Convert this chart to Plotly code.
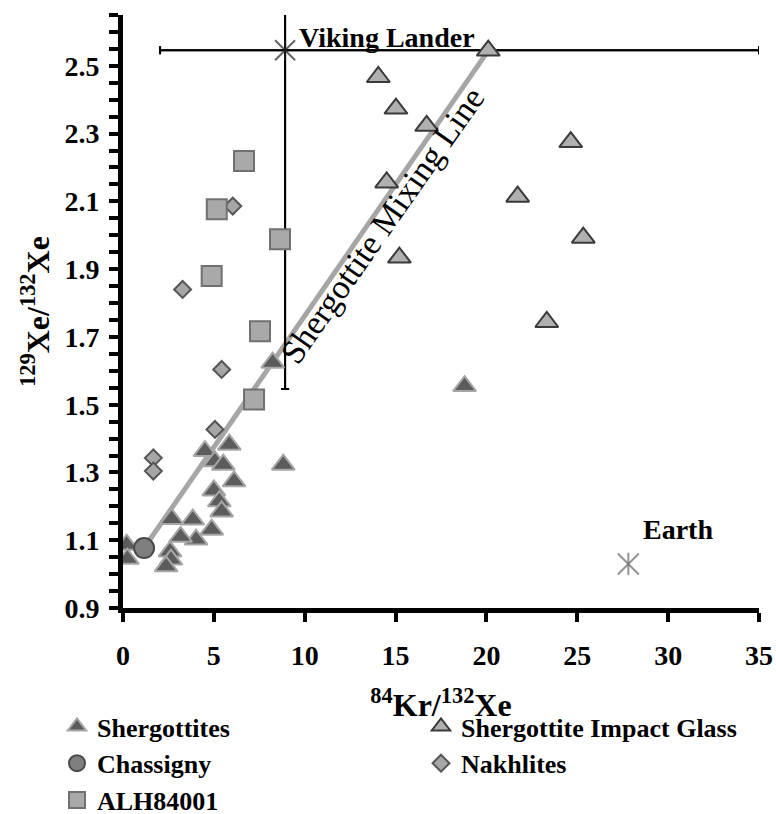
import plotly.graph_objects as go

# ---------------- data ----------------
sherg_x = [8.24, 8.82, 4.51, 5.85, 5.06, 5.52, 6.11, 5.00, 5.30, 5.43, 4.88, 4.02, 3.84,
           2.68, 3.17, 2.59, 2.64, 2.37, 0.20, 0.24, 18.8]
sherg_y = [1.624, 1.323, 1.363, 1.382, 1.333, 1.323, 1.274, 1.247, 1.215, 1.185, 1.131, 1.102,
           1.161, 1.163, 1.110, 1.067, 1.043, 1.023, 1.087, 1.045, 1.555]

glass_x = [20.1, 14.05, 15.02, 16.71, 24.64, 14.51, 21.72, 25.33, 15.21, 23.32]
glass_y = [2.545, 2.467, 2.374, 2.323, 2.275, 2.156, 2.114, 1.993, 1.934, 1.744]

chass_x = [1.16]
chass_y = [1.077]

nakh_x = [5.43, 5.06, 1.67, 1.67, 6.04, 3.28]
nakh_y = [1.604, 1.427, 1.343, 1.304, 2.086, 1.840]

alh_x = [6.66, 5.16, 8.64, 4.88, 7.54, 7.21]
alh_y = [2.219, 2.077, 1.988, 1.880, 1.717, 1.515]

mix_x = [1.16, 20.1]
mix_y = [1.077, 2.545]

viking_x = [8.92]
viking_y = [2.546]
viking_err_x_minus = [6.88]
viking_err_x_plus = [26.08]
viking_err_y_minus = [1.0]
viking_err_y_plus = [0.3]

earth_x = [27.81]
earth_y = [1.03]

x_ticks = [0, 5, 10, 15, 20, 25, 30, 35]
y_ticks = [0.9, 1.1, 1.3, 1.5, 1.7, 1.9, 2.1, 2.3, 2.5]

FONT = "Liberation Serif, Times New Roman, serif"

fig = go.Figure()

# mixing line
fig.add_trace(go.Scatter(x=mix_x, y=mix_y, mode="lines",
                         line=dict(color="#a6a6a6", width=5),
                         showlegend=False, hoverinfo="skip"))

# Viking lander with error bars
fig.add_trace(go.Scatter(
    x=viking_x * 2, y=viking_y * 2, mode="markers",
    marker=dict(symbol=["x-thin-open", "line-ns-open"], size=[20, 15],
                line=dict(color="#222222", width=2), color="#222222"),
    error_x=dict(type="data", symmetric=False, array=viking_err_x_plus * 2,
                 arrayminus=viking_err_x_minus * 2, color="black", thickness=2, width=4),
    error_y=dict(type="data", symmetric=False, array=viking_err_y_plus * 2,
                 arrayminus=viking_err_y_minus * 2, color="black", thickness=2, width=4),
    showlegend=False, hoverinfo="skip"))

# Earth
fig.add_trace(go.Scatter(
    x=earth_x * 2, y=earth_y * 2, mode="markers",
    marker=dict(symbol=["x-thin-open", "line-ns-open"], size=[21, 16],
                line=dict(color="#666666", width=2), color="#666666"),
    showlegend=False, hoverinfo="skip"))

fig.add_trace(go.Scatter(
    x=sherg_x, y=sherg_y, mode="markers", name="Shergottites", legendrank=1,
    marker=dict(symbol="triangle-up", size=20, color="#5c5c5c",
                line=dict(color="#a6a6a6", width=2))))

fig.add_trace(go.Scatter(
    x=glass_x, y=glass_y, mode="markers", name="Shergottite Impact Glass", legendrank=2,
    marker=dict(symbol="triangle-up", size=20, color="#b0b0b0",
                line=dict(color="#3a3a3a", width=2))))

fig.add_trace(go.Scatter(
    x=chass_x, y=chass_y, mode="markers", name="Chassigny", legendrank=3,
    marker=dict(symbol="circle", size=20, color="#7f7f7f",
                line=dict(color="#4a4a4a", width=2))))

fig.add_trace(go.Scatter(
    x=nakh_x, y=nakh_y, mode="markers", name="Nakhlites", legendrank=4,
    marker=dict(symbol="diamond", size=13, color="#a6a6a6",
                line=dict(color="#555555", width=2))))

fig.add_trace(go.Scatter(
    x=alh_x, y=alh_y, mode="markers", name="ALH84001", legendrank=5,
    marker=dict(symbol="square", size=20, color="#a9a9a9",
                line=dict(color="#707070", width=2))))

fig.add_annotation(x=9.55, y=2.585, text="<b>Viking Lander</b>", showarrow=False,
                   xanchor="left", yanchor="middle",
                   font=dict(family=FONT, size=28, color="black", weight="bold"))
fig.add_annotation(x=28.5, y=1.131, text="<b>Earth</b>", showarrow=False,
                   xanchor="left", yanchor="middle",
                   font=dict(family=FONT, size=28, color="black", weight="bold"))
fig.add_annotation(x=14.25, y=2.03, text="Shergottite Mixing Line", showarrow=False,
                   textangle=-55, xanchor="center", yanchor="middle",
                   font=dict(family=FONT, size=34, color="black", weight="normal"))

W, H = 776, 814
L, R, T, B = 123, 17, 15, 206
PW, PH = W - L - R, H - T - B

fig.update_layout(
    width=W, height=H, autosize=False,
    margin=dict(l=L, r=R, t=T, b=B, autoexpand=False),
    paper_bgcolor="white", plot_bgcolor="white",
    font=dict(family=FONT, size=28, color="black"),
    showlegend=True,
    legend=dict(orientation="h", xref="paper", yref="paper",
                x=(57 - L) / PW, y=-(703 - (H - B)) / PH, xanchor="left", yanchor="top",
                entrywidth=319, entrywidthmode="pixels",
                font=dict(family=FONT, size=26, color="black", weight="bold"),
                tracegroupgap=0, itemsizing="trace", bgcolor="rgba(0,0,0,0)"),
)

fig.update_xaxes(
    range=[0, 35], tickmode="array", tickvals=x_ticks, ticktext=[str(v) for v in x_ticks],
    showgrid=False, zeroline=False, showline=True, linecolor="black", linewidth=5,
    ticks="outside", ticklen=9, tickwidth=4, tickcolor="black",
    ticklabelstandoff=9, automargin=False,
    tickfont=dict(family=FONT, size=28, color="black", weight="bold"),
    title=dict(text="<sup>84</sup>Kr/<sup>132</sup>Xe", standoff=26,
               font=dict(family=FONT, size=32, color="black", weight="bold")),
)

fig.update_yaxes(
    range=[0.9, 2.65], tickmode="array", tickvals=y_ticks,
    ticktext=[f"{v:.1f}" for v in y_ticks],
    showgrid=False, zeroline=False, showline=True, linecolor="black", linewidth=5,
    ticks="outside", ticklen=9, tickwidth=4, tickcolor="black",
    ticklabelstandoff=4, automargin=False,
    minor=dict(tick0=0.9, dtick=0.05, ticks="outside", ticklen=9, tickwidth=4,
               tickcolor="black", showgrid=False),
    tickfont=dict(family=FONT, size=28, color="black", weight="bold"),
    title=dict(text="<sup>129</sup>Xe/<sup>132</sup>Xe", standoff=7,
               font=dict(family=FONT, size=32, color="black", weight="bold")),
)

fig.write_html("out.html", config={"displayModeBar": False},
               post_script="document.body.style.margin='0px';")
